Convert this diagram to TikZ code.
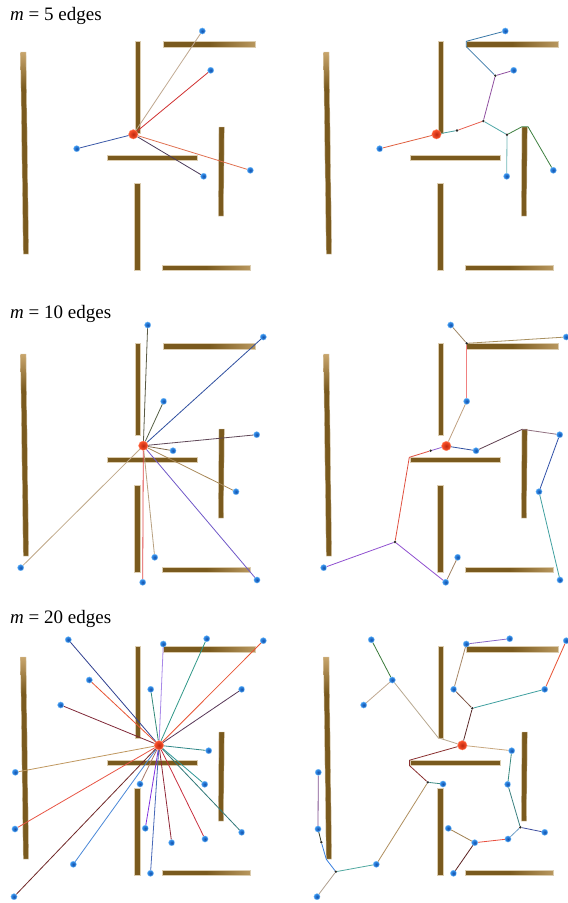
\documentclass[tikz,border=0pt]{standalone}
\usepackage{fontspec}
\setmainfont{Liberation Serif}
\usetikzlibrary{shapes.geometric}
\definecolor{wallD}{HTML}{7A5A1E}
\definecolor{wallL}{HTML}{B8975E}
\definecolor{wallT}{HTML}{C8A56C}
\definecolor{wallE}{HTML}{DCCDB0}
\pgfdeclarehorizontalshading{wallH}{100bp}{color(0bp)=(wallD); color(50bp)=(wallD); color(75bp)=(wallL); color(100bp)=(wallL)}
\pgfdeclareverticalshading{wallV}{100bp}{color(0bp)=(wallD); color(66bp)=(wallD); color(75bp)=(wallT); color(100bp)=(wallT)}
\pgfdeclarelayer{walllayer}
\pgfdeclarelayer{edgelayer}
\pgfsetlayers{walllayer,edgelayer,main}
\tikzset{
  hx/.code={\definecolor{tmpc}{HTML}{#1}\pgfkeysalso{/tikz/draw=tmpc}},
  edge/.style={line width=0.8pt, line join=round},
  term/.style={circle, inner sep=0pt, minimum size=6.2pt, draw={rgb,255:red,120;green,185;blue,245}, line width=0.3pt,
     inner color={rgb,255:red,20;green,80;blue,170}, outer color={rgb,255:red,55;green,150;blue,240}},
  rootnode/.style={circle, inner sep=0pt, minimum size=9.5pt, draw={rgb,255:red,255;green,140;blue,110}, line width=0.3pt,
     inner color={rgb,255:red,190;green,40;blue,15}, outer color={rgb,255:red,255;green,85;blue,45}},
  steiner/.style={circle, inner sep=0pt, minimum size=2.6pt, fill={rgb,255:red,40;green,40;blue,40}},
  walldark/.style={fill=wallD, draw=wallE, line width=0.4pt},
  wallshH/.style={shade, shading=wallH, draw=wallE, line width=0.4pt},
  wallshV/.style={shade, shading=wallV, draw=wallE, line width=0.4pt},
  title/.style={anchor=base west, inner sep=0pt, font=\fontsize{19}{22}\selectfont}
}
\newcommand\mazewalls{%
  \begin{pgfonlayer}{walllayer}
  \path[wallshV] (20.5,52) -- (26,52) -- (28.7,254) -- (23.3,254) -- cycle;
  \path[walldark] (135,41) rectangle (140.3,133);
  \path[wallshH] (163,41) rectangle (255,46.7);
  \path[walldark] (107,155) rectangle (196.7,160.5);
  \path[walldark] (219,127) -- (224.3,127) -- (223.5,216) -- (218.3,216) -- cycle;
  \path[walldark] (134.3,183) rectangle (140,270);
  \path[wallshH] (162.3,265) rectangle (250,270.3);
  \end{pgfonlayer}}
\begin{document}
\begin{tikzpicture}[x=1pt,y=-1pt]
\begin{pgfonlayer}{walllayer}
\fill[white] (0,0) rectangle (568,903);
\end{pgfonlayer}
\useasboundingbox (0,0) rectangle (568,903);
\node[title] (title1) at (10,20) {\textit{m} = 5 edges};
\node[title] (title2) at (10,318) {\textit{m} = 10 edges};
\node[title] (title3) at (10,623) {\textit{m} = 20 edges};
% ---------- Panel 1 ----------
\begin{scope}
\mazewalls
\node[rootnode] (A0) at (133.3,134.3) {};
\node[term] (A1) at (202.3,31) {};
\node[term] (A2) at (210.7,70.3) {};
\node[term] (A3) at (76.7,148.7) {};
\node[term] (A4) at (203.7,176.3) {};
\node[term] (A5) at (250.3,170.3) {};
\begin{pgfonlayer}{edgelayer}
\draw[edge,hx=C0A890] (A0) -- (A1);
\draw[edge,hx=D03030] (A0) -- (A2);
\draw[edge,hx=3A58A8] (A0) -- (A3);
\draw[edge,hx=4A3A5A] (A0) -- (A4);
\draw[edge,hx=E07050] (A0) -- (A5);
\end{pgfonlayer}
\end{scope}
% ---------- Panel 2 ----------
\begin{scope}[shift={(303,0)}]
\mazewalls
\node[rootnode] (B0) at (133.5,134.3) {};
\node[term] (B1) at (202.3,31) {};
\node[term] (B2) at (210.7,70.3) {};
\node[term] (B3) at (76.7,148.7) {};
\node[term] (B4) at (203.7,176.3) {};
\node[term] (B5) at (250.3,170.3) {};
\node[steiner] (Bs1) at (154,130.5) {};
\node[steiner] (Bs2) at (180.3,121) {};
\node[steiner] (Bs3) at (192.3,75.7) {};
\node[steiner] (Bs4) at (204,134.7) {};
\coordinate (Bk1) at (163.3,46.7);
\coordinate (Bk2) at (163.3,41.3);
\coordinate (Bk3) at (219,126.7);
\coordinate (Bk4) at (225,126.7);
\begin{pgfonlayer}{edgelayer}
\draw[edge,hx=E06040] (B0) -- (B3);
\draw[edge,hx=48A0A0] (B0) -- (Bs1);
\draw[edge,hx=E86050] (Bs1) -- (Bs2);
\draw[edge,hx=9050A0] (Bs2) -- (Bs3);
\draw[edge,hx=9050A0] (Bs3) -- (B2);
\draw[edge,hx=3A78A8] (Bs3) -- (Bk1) -- (Bk2) -- (B1);
\draw[edge,hx=50A8A8] (Bs2) -- (Bs4);
\draw[edge,hx=70B8B8] (Bs4) -- (B4);
\draw[edge,hx=3E8040] (Bs4) -- (Bk3) -- (Bk4) -- (B5);
\end{pgfonlayer}
\end{scope}
% ---------- Panel 3 ----------
\begin{scope}[shift={(0,302)}]
\mazewalls
\node[rootnode] (C0) at (143.3,143.7) {};
\node[term] (C1) at (147.7,23) {};
\node[term] (C2) at (263.3,35) {};
\node[term] (C3) at (163.7,99.3) {};
\node[term] (C4) at (256.7,132.7) {};
\node[term] (C5) at (173,148.7) {};
\node[term] (C6) at (236,189.7) {};
\node[term] (C7) at (20.7,265.7) {};
\node[term] (C8) at (154.7,255.3) {};
\node[term] (C9) at (142.7,280.3) {};
\node[term] (C10) at (257,278) {};
\begin{pgfonlayer}{edgelayer}
\draw[edge,hx=5A5A45] (C0) -- (C1);
\draw[edge,hx=3050A0] (C0) -- (C2);
\draw[edge,hx=556045] (C0) -- (C3);
\draw[edge,hx=604858] (C0) -- (C4);
\draw[edge,hx=806848] (C0) -- (C5);
\draw[edge,hx=A88858] (C0) -- (C6);
\draw[edge,hx=C0A888] (C0) -- (C7);
\draw[edge,hx=B8A080] (C0) -- (C8);
\draw[edge,hx=E04848] (C0) -- (C9);
\draw[edge,hx=7058C8] (C0) -- (C10);
\end{pgfonlayer}
\end{scope}
% ---------- Panel 4 ----------
\begin{scope}[shift={(303,302)}]
\mazewalls
\node[rootnode] (D0) at (143.3,144) {};
\node[term] (D1) at (147.7,23) {};
\node[term] (D2) at (263.3,35) {};
\node[term] (D3) at (163.7,99.3) {};
\node[term] (D4) at (256.7,132.7) {};
\node[term] (D5) at (173,148.7) {};
\node[term] (D6) at (236,189.7) {};
\node[term] (D7) at (20.7,265.7) {};
\node[term] (D8) at (154.7,255.3) {};
\node[term] (D9) at (142.7,280.3) {};
\node[term] (D10) at (257,278) {};
\node[steiner] (Dk1) at (163.7,41.3) {};
\node[steiner] (Ds1) at (127.7,148.7) {};
\node[steiner] (Ds2) at (92,240) {};
\coordinate (Dk2) at (106.3,155.3);
\coordinate (Dk3) at (219.3,127.3);
\begin{pgfonlayer}{edgelayer}
\draw[edge,hx=A08868] (Dk1) -- (D1);
\draw[edge,hx=A89060] (Dk1) -- (D2);
\draw[edge,hx=F08080] (Dk1) -- (D3);
\draw[edge,hx=C0A080] (D3) -- (D0);
\draw[edge,hx=3050A0] (D0) -- (D5);
\draw[edge,hx=604050] (D5) -- (Dk3);
\draw[edge,hx=907080] (Dk3) -- (D4);
\draw[edge,hx=3050A8] (D4) -- (D6);
\draw[edge,hx=40A0A0] (D6) -- (D10);
\draw[edge,hx=9060D0] (D0) -- (Ds1);
\draw[edge,hx=E05040] (Ds1) -- (Dk2) -- (Ds2);
\draw[edge,hx=9050D0] (Ds2) -- (D7);
\draw[edge,hx=9050D0] (Ds2) -- (D9);
\draw[edge,hx=A08060] (D9) -- (D8);
\end{pgfonlayer}
\end{scope}
% ---------- Panel 5 ----------
\begin{scope}[shift={(0,605)}]
\mazewalls
\node[rootnode] (E0) at (159,140.3) {};
\node[term] (E1) at (68.3,34.7) {};
\node[term] (E2) at (163.3,39) {};
\node[term] (E3) at (206.7,33.7) {};
\node[term] (E4) at (263.3,35.7) {};
\node[term] (E5) at (89.3,75) {};
\node[term] (E6) at (150.7,84.3) {};
\node[term] (E7) at (241.7,84.3) {};
\node[term] (E8) at (60.7,100) {};
\node[term] (E9) at (208.7,145.7) {};
\node[term] (E10) at (15.3,167.3) {};
\node[term] (E11) at (140,179) {};
\node[term] (E12) at (204.7,179.3) {};
\node[term] (E13) at (15,224) {};
\node[term] (E14) at (145.3,223.3) {};
\node[term] (E15) at (241.7,227.3) {};
\node[term] (E16) at (171.7,237.7) {};
\node[term] (E17) at (205,234) {};
\node[term] (E18) at (73.3,259.3) {};
\node[term] (E19) at (150.5,268.3) {};
\node[term] (E20) at (14,291.7) {};
\begin{pgfonlayer}{edgelayer}
\draw[edge,hx=304090] (E0) -- (E1);
\draw[edge,hx=A888E8] (E0) -- (E2);
\draw[edge,hx=309888] (E0) -- (E3);
\draw[edge,hx=E85535] (E0) -- (E4);
\draw[edge,hx=E85535] (E0) -- (E5);
\draw[edge,hx=308878] (E0) -- (E6);
\draw[edge,hx=583858] (E0) -- (E7);
\draw[edge,hx=802838] (E0) -- (E8);
\draw[edge,hx=308888] (E0) -- (E9);
\draw[edge,hx=C09860] (E0) -- (E10);
\draw[edge,hx=A87868] (E0) -- (E11);
\draw[edge,hx=309898] (E0) -- (E12);
\draw[edge,hx=E85545] (E0) -- (E13);
\draw[edge,hx=8030E0] (E0) -- (E14);
\draw[edge,hx=307878] (E0) -- (E15);
\draw[edge,hx=902838] (E0) -- (E16);
\draw[edge,hx=C83040] (E0) -- (E17);
\draw[edge,hx=4A88D8] (E0) -- (E18);
\draw[edge,hx=4868B8] (E0) -- (E19);
\draw[edge,hx=702828] (E0) -- (E20);
\end{pgfonlayer}
\end{scope}
% ---------- Panel 6 ----------
\begin{scope}[shift={(303,605)}]
\mazewalls
\node[rootnode] (F0) at (159.3,140.3) {};
\node[term] (F1) at (68.3,34.7) {};
\node[term] (F2) at (163.3,39) {};
\node[term] (F3) at (206.7,33.7) {};
\node[term] (F4) at (263.3,35.7) {};
\node[term] (F5) at (89.3,75) {};
\node[term] (F6) at (150.7,84.3) {};
\node[term] (F7) at (241.7,84.3) {};
\node[term] (F8) at (60.7,100) {};
\node[term] (F9) at (208.7,145.7) {};
\node[term] (F10) at (15.3,167.3) {};
\node[term] (F11) at (140,179) {};
\node[term] (F12) at (204.7,179.3) {};
\node[term] (F13) at (15,224) {};
\node[term] (F14) at (145.3,223.3) {};
\node[term] (F15) at (241.7,227.3) {};
\node[term] (F16) at (171.7,237.7) {};
\node[term] (F17) at (205,234) {};
\node[term] (F18) at (73.3,259.3) {};
\node[term] (F19) at (150.5,268.3) {};
\node[term] (F20) at (14,291.7) {};
\node[steiner] (Fsa) at (169.3,103.3) {};
\node[steiner] (Fsb) at (124.8,177.3) {};
\node[steiner] (Fsc) at (32.8,266.7) {};
\node[steiner] (Fsd) at (18.3,237.2) {};
\node[steiner] (Fse) at (217.3,222.3) {};
\coordinate (FkA) at (135.3,132.8);
\coordinate (FkB1) at (106.5,155.2);
\coordinate (FkB2) at (106.5,160.6);
\coordinate (FkC) at (23.3,254.3);
\begin{pgfonlayer}{edgelayer}
\draw[edge,hx=3A7A3A] (F1) -- (F5);
\draw[edge,hx=C0A890] (F8) -- (F5);
\draw[edge,hx=B8A890] (F5) -- (FkA) -- (F0);
\draw[edge,hx=5A2A2A] (F0) -- (Fsa);
\draw[edge,hx=7A5040] (Fsa) -- (F6);
\draw[edge,hx=A88868] (F6) -- (F2);
\draw[edge,hx=8868C8] (F2) -- (F3);
\draw[edge,hx=40A0A0] (Fsa) -- (F7);
\draw[edge,hx=E85030] (F7) -- (F4);
\draw[edge,hx=C8A880] (F0) -- (F9);
\draw[edge,hx=3A8A80] (F9) -- (F12);
\draw[edge,hx=3A8080] (F12) -- (Fse);
\draw[edge,hx=4050A0] (Fse) -- (F15);
\draw[edge,hx=70A0C8] (Fse) -- (F17);
\draw[edge,hx=E85040] (F17) -- (F16);
\draw[edge,hx=A08050] (F16) -- (F14);
\draw[edge,hx=5A2020] (F16) -- (F19);
\draw[edge,hx=8A3030] (F0) -- (FkB1) -- (FkB2) -- (Fsb);
\draw[edge,hx=3A8A80] (Fsb) -- (F11);
\draw[edge,hx=B09060] (Fsb) -- (F18);
\draw[edge,hx=50A8A0] (F18) -- (Fsc);
\draw[edge,hx=B0A090] (Fsc) -- (F20);
\draw[edge,hx=3A80E0] (Fsc) -- (FkC) -- (Fsd);
\draw[edge,hx=303820] (Fsd) -- (F13);
\draw[edge,hx=805090] (F13) -- (F10);
\end{pgfonlayer}
\end{scope}
\end{tikzpicture}
\end{document}
